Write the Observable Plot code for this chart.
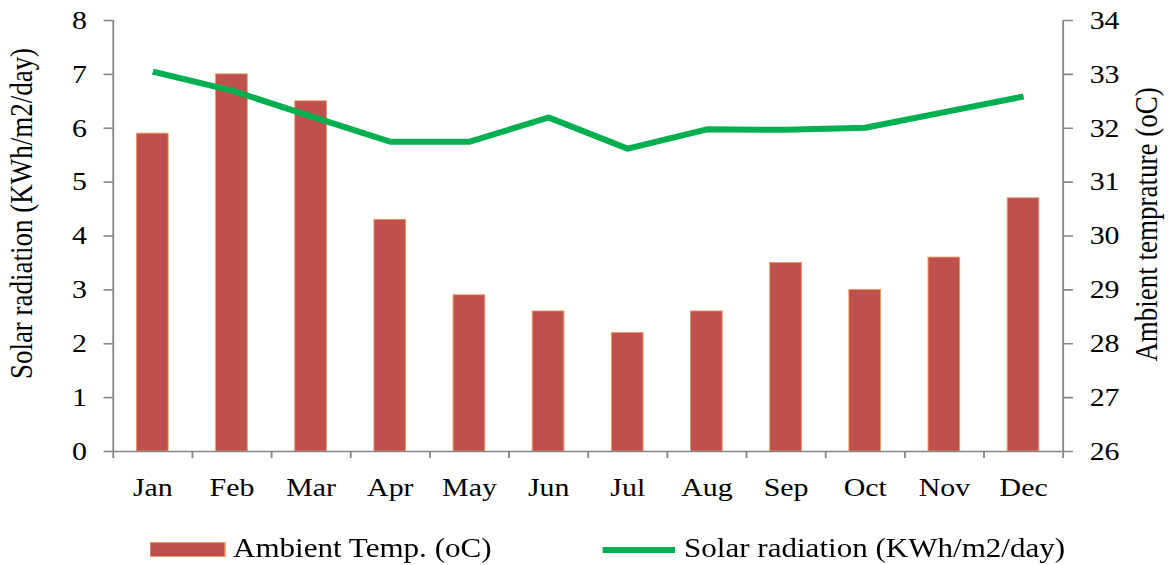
<!DOCTYPE html>
<html>
<head>
<meta charset="utf-8">
<script src="https://cdn.jsdelivr.net/npm/d3@7"></script>
<script src="https://cdn.jsdelivr.net/npm/@observablehq/plot@0.6"></script>
<style>
html, body { margin: 0; padding: 0; background: #fff; overflow: hidden; }
#wrap { width: 1017px; transform: scaleX(1.15); transform-origin: 0 0; font-family: "Liberation Serif", "Times New Roman", serif; color: #000; }
#chart svg { display: block; }
#legend { position: relative; height: 45px; }
#legend .sw { position: absolute; box-sizing: border-box; }
#legend .lbl { position: absolute; font-size: 27px; line-height: 27px; white-space: nowrap; }
</style>
</head>
<body>
<div id="wrap">
  <div id="chart"></div>
  <div id="legend">
    <div class="sw" style="left:130.4px; top:22px; width:65.2px; height:15px; background:#C0504D; border:1px solid #EE9A5E;"></div>
    <div class="lbl" style="left:202.6px; top:14.7px;">Ambient Temp. (oC)</div>
    <div class="sw" style="left:523.5px; top:26.5px; width:63.5px; height:6px; background:#00B050;"></div>
    <div class="lbl" style="left:594.8px; top:14.7px;">Solar radiation (KWh/m2/day)</div>
  </div>
</div>
<script>
const months = ["Jan", "Feb", "Mar", "Apr", "May", "Jun", "Jul", "Aug", "Sep", "Oct", "Nov", "Dec"];
const ambientTemp = [31.9, 33.0, 32.5, 30.3, 28.9, 28.6, 28.2, 28.6, 29.5, 29.0, 29.6, 30.7];
const solarRadiation = [7.05, 6.70, 6.22, 5.75, 5.75, 6.20, 5.62, 5.98, 5.97, 6.01, 6.30, 6.59];
const solarTicks = [0, 1, 2, 3, 4, 5, 6, 7, 8];
const tempTicks = [26, 27, 28, 29, 30, 31, 32, 33, 34];

const data = months.map((m, i) => ({month: m, temp: ambientTemp[i], solar: solarRadiation[i]}));

// map temperature (right axis) onto the solar (left axis) scale
const tempToSolar = d3.scaleLinear(d3.extent(tempTicks), d3.extent(solarTicks));

const W = 1017, H = 520, mL = 98, mR = 93, mT = 20, mB = 69;
const step = (W - mL - mR) / months.length;
const unitPx = (H - mT - mB) / (solarTicks[solarTicks.length - 1] - solarTicks[0]);
const tickDown = -7 / unitPx;
const gray = "#868686";
const ymax = solarTicks[solarTicks.length - 1];

const chart = Plot.plot({
  width: W,
  height: H,
  marginLeft: mL,
  marginRight: mR,
  marginTop: mT,
  marginBottom: mB,
  style: {fontFamily: "'Liberation Serif', 'Times New Roman', serif", background: "#fff", color: "#000"},
  x: {domain: months, paddingInner: 0.6, paddingOuter: 0.3, round: false, label: null},
  y: {domain: d3.extent(solarTicks), label: null},
  marks: [
    Plot.barY(data, {x: "month", y: d => tempToSolar(d.temp), fill: "#C0504D", stroke: "#EE9A5E", strokeWidth: 0.8}),
    Plot.ruleY([0], {stroke: gray, strokeWidth: 1.6}),
    // category boundary ticks
    Plot.ruleX(months.slice(1), {x: d => d, dx: -step / 2, y1: 0, y2: tickDown, stroke: gray, strokeWidth: 1.6}),
    // left and right axis lines
    Plot.ruleX([months[0]], {x: d => d, dx: -step / 2, y1: tickDown, y2: ymax, stroke: gray, strokeWidth: 1.6}),
    Plot.ruleX([months[months.length - 1]], {x: d => d, dx: step / 2, y1: tickDown, y2: ymax, stroke: gray, strokeWidth: 1.6}),
    Plot.line(data, {x: "month", y: "solar", stroke: "#00B050", strokeWidth: 6, strokeLinecap: "butt", strokeLinejoin: "round"}),
    Plot.axisY(solarTicks, {anchor: "left", tickSize: 8, tickPadding: 15, fontSize: 26, stroke: gray, strokeWidth: 1.6, fill: "#000", label: null,
      tickFormat: d => String(d)}),
    Plot.axisY(solarTicks, {anchor: "right", tickSize: 8, tickPadding: 15, fontSize: 26, stroke: gray, strokeWidth: 1.6, fill: "#000", label: null,
      tickFormat: d => String(Math.round(tempToSolar.invert(d)))}),
    Plot.axisX({anchor: "bottom", tickSize: 0, tickPadding: 26, fontSize: 26, fill: "#000", label: null}),
    Plot.text(["Solar radiation (KWh/m2/day)"], {frameAnchor: "left", textAnchor: "middle", lineAnchor: "middle", dx: -79, dy: -22.5, rotate: -90, fontSize: 27, fill: "#000"}),
    Plot.text(["Ambient temprature (oC)"], {frameAnchor: "right", textAnchor: "middle", lineAnchor: "middle", dx: 73, dy: -11.5, rotate: -90, fontSize: 27, fill: "#000"})
  ]
});
document.getElementById("chart").appendChild(chart);
</script>
</body>
</html>
